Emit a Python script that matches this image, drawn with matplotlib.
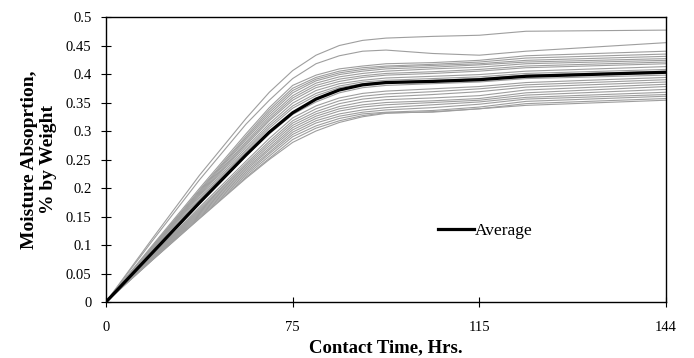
import matplotlib
matplotlib.use("Agg")
import matplotlib.pyplot as plt
from matplotlib.ticker import MultipleLocator, FuncFormatter

# ******************************************************************************
# Data (category axis, values in % by weight)
# positions along the category axis, tick labels sit at 0,1,2,3
pos = [0, 0.25, 0.5, 0.75, 0.875, 1.0, 1.125, 1.25, 1.375, 1.5, 1.75, 2.0, 2.25, 3.0]
tick_pos = [0, 1, 2, 3]
tick_labels = ["0", "75", "115", "144"]

average = [0, 0.087, 0.174, 0.258, 0.298, 0.332, 0.356, 0.372, 0.381, 0.385, 0.387, 0.390, 0.396, 0.403]

# individual specimens (gray lines)
spec_01 = [0, 0.112, 0.222, 0.322, 0.368, 0.406, 0.433, 0.450, 0.459, 0.463, 0.466, 0.468, 0.475, 0.477]
spec_02 = [0, 0.108, 0.214, 0.312, 0.354, 0.392, 0.418, 0.432, 0.440, 0.442, 0.436, 0.433, 0.440, 0.455]
spec_03 = [0, 0.100, 0.199, 0.295, 0.341, 0.380, 0.398, 0.409, 0.414, 0.418, 0.420, 0.424, 0.432, 0.440]
spec_04 = [0, 0.098, 0.196, 0.291, 0.337, 0.375, 0.394, 0.405, 0.411, 0.414, 0.417, 0.421, 0.428, 0.435]
spec_05 = [0, 0.097, 0.194, 0.288, 0.333, 0.371, 0.391, 0.402, 0.408, 0.412, 0.415, 0.418, 0.424, 0.431]
spec_06 = [0, 0.096, 0.192, 0.285, 0.329, 0.367, 0.388, 0.399, 0.405, 0.409, 0.412, 0.416, 0.421, 0.427]
spec_07 = [0, 0.095, 0.190, 0.281, 0.325, 0.362, 0.384, 0.395, 0.401, 0.405, 0.409, 0.412, 0.418, 0.424]
spec_08 = [0, 0.094, 0.188, 0.278, 0.321, 0.358, 0.380, 0.391, 0.397, 0.401, 0.404, 0.408, 0.414, 0.421]
spec_09 = [0, 0.093, 0.186, 0.275, 0.318, 0.354, 0.376, 0.387, 0.394, 0.398, 0.401, 0.405, 0.411, 0.418]
spec_10 = [0, 0.092, 0.183, 0.271, 0.313, 0.349, 0.371, 0.383, 0.389, 0.393, 0.396, 0.399, 0.405, 0.413]
spec_11 = [0, 0.090, 0.180, 0.267, 0.309, 0.344, 0.366, 0.379, 0.386, 0.389, 0.392, 0.395, 0.401, 0.408]
spec_12 = [0, 0.089, 0.178, 0.264, 0.305, 0.340, 0.362, 0.376, 0.383, 0.386, 0.389, 0.392, 0.398, 0.405]
spec_13 = [0, 0.086, 0.172, 0.256, 0.295, 0.329, 0.351, 0.367, 0.376, 0.380, 0.383, 0.386, 0.392, 0.398]
spec_14 = [0, 0.083, 0.166, 0.247, 0.287, 0.323, 0.344, 0.358, 0.366, 0.370, 0.374, 0.378, 0.385, 0.394]
spec_15 = [0, 0.082, 0.163, 0.243, 0.282, 0.318, 0.339, 0.353, 0.361, 0.365, 0.369, 0.374, 0.381, 0.390]
spec_16 = [0, 0.081, 0.161, 0.240, 0.278, 0.314, 0.334, 0.348, 0.356, 0.360, 0.364, 0.369, 0.377, 0.386]
spec_17 = [0, 0.080, 0.159, 0.237, 0.274, 0.310, 0.330, 0.343, 0.351, 0.355, 0.358, 0.362, 0.372, 0.382]
spec_18 = [0, 0.079, 0.157, 0.234, 0.270, 0.306, 0.326, 0.339, 0.346, 0.350, 0.353, 0.357, 0.367, 0.378]
spec_19 = [0, 0.078, 0.155, 0.231, 0.267, 0.302, 0.322, 0.335, 0.342, 0.346, 0.350, 0.354, 0.363, 0.373]
spec_20 = [0, 0.077, 0.153, 0.228, 0.263, 0.298, 0.318, 0.330, 0.337, 0.341, 0.346, 0.351, 0.359, 0.368]
spec_21 = [0, 0.076, 0.151, 0.225, 0.260, 0.294, 0.314, 0.326, 0.333, 0.337, 0.341, 0.347, 0.356, 0.364]
spec_22 = [0, 0.075, 0.149, 0.222, 0.256, 0.290, 0.309, 0.322, 0.330, 0.333, 0.336, 0.342, 0.352, 0.361]
spec_23 = [0, 0.074, 0.147, 0.219, 0.252, 0.285, 0.305, 0.318, 0.327, 0.332, 0.333, 0.339, 0.348, 0.357]
spec_24 = [0, 0.074, 0.146, 0.217, 0.250, 0.280, 0.300, 0.315, 0.325, 0.331, 0.334, 0.339, 0.345, 0.354]

specimens = [spec_01, spec_02, spec_03, spec_04, spec_05, spec_06, spec_07, spec_08,
             spec_09, spec_10, spec_11, spec_12, spec_13, spec_14, spec_15, spec_16,
             spec_17, spec_18, spec_19, spec_20, spec_21, spec_22, spec_23, spec_24]
# ******************************************************************************


# ******************************************************************************
# Figure setup
plt.rcParams['font.family'] = ['Liberation Serif', 'DejaVu Serif']
fig = plt.figure(figsize=(6.94, 3.58), dpi=100)
ax = fig.add_axes([0.1527, 0.1564, 0.8070, 0.7961])

for s in specimens:
    ax.plot(pos, s, color="#9e9e9e", lw=0.8, zorder=2)
ax.plot(pos, average, color="black", lw=2.3, zorder=3, label="Average")
# ******************************************************************************


# ******************************************************************************
# Axes
ax.set_xlim(0, 3)
ax.set_ylim(0, 0.5)
ax.set_xticks(tick_pos)
ax.set_xticklabels(tick_labels)
ax.yaxis.set_major_locator(MultipleLocator(0.05))
ax.yaxis.set_major_formatter(FuncFormatter(lambda v, p: "%g" % round(v, 2)))
ax.tick_params(direction="inout", length=7, width=0.8, labelsize=10.5)
ax.tick_params(axis="x", pad=10)
ax.tick_params(axis="y", pad=7)
for sp in ax.spines.values():
    sp.set_linewidth(1.0)

ax.set_xlabel("Contact Time, Hrs.", fontsize=13.5, fontweight="bold", labelpad=4)
ax.set_ylabel("Moisture Absoprtion,\n% by Weight", fontsize=14, fontweight="bold",
              labelpad=6, linespacing=1.15)

ax.legend(loc="center left", bbox_to_anchor=(0.592, 0.249), frameon=False,
          borderpad=0, borderaxespad=0, handlelength=2.1, handletextpad=0.05,
          fontsize=12.5)
# ******************************************************************************

fig.savefig("out.png", dpi=100)
